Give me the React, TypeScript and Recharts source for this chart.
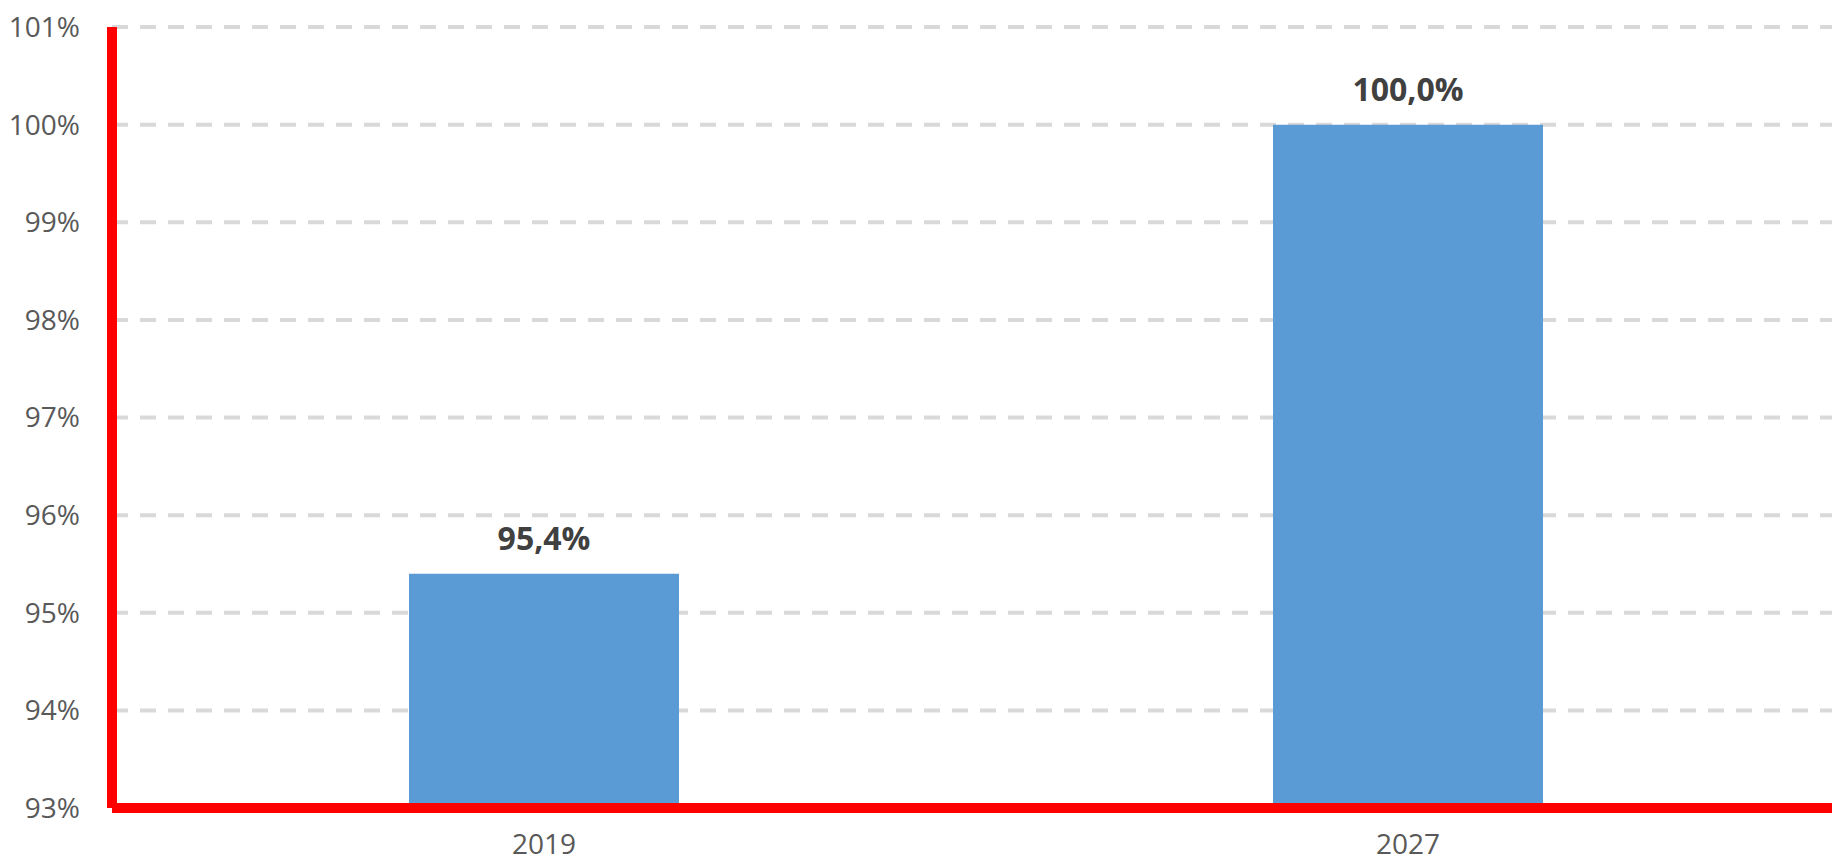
import { BarChart, Bar, XAxis, YAxis, CartesianGrid, LabelList } from "recharts";

const years = ["2019", "2027"];
const shares = [95.4, 100.0];
const yTicks = [93, 94, 95, 96, 97, 98, 99, 100, 101];

const data = years.map((year, i) => ({ year, share: shares[i] }));

function formatLabel(v: number) {
  return v.toFixed(1).replace(".", ",") + "%";
}

export default function App() {
  return (
    <div
      style={{
        position: "absolute",
        left: 0,
        top: 0,
        width: 1832,
        height: 864,
        overflow: "hidden",
        background: "#ffffff",
        fontFamily: "'Open Sans', sans-serif",
      }}
    >
      <BarChart
        width={1840}
        height={864}
        data={data}
        margin={{ top: 27, right: 0, bottom: 0, left: 0 }}
      >
        <CartesianGrid
          vertical={false}
          stroke="#d9d9d9"
          strokeWidth={4}
          strokeDasharray="16 12"
        />
        <XAxis
          dataKey="year"
          height={56}
          axisLine={{ stroke: "#ff0000", strokeWidth: 10 }}
          tickLine={false}
          tickSize={6}
          tickMargin={20}
          tick={{ fontSize: 28, fill: "#595959" }}
        />
        <YAxis
          type="number"
          width={112}
          domain={[93, 101]}
          ticks={yTicks}
          allowDataOverflow
          tickFormatter={(v: number) => `${v}%`}
          axisLine={{ stroke: "#ff0000", strokeWidth: 10 }}
          tickLine={false}
          tickSize={6}
          tickMargin={26}
          tick={{ fontSize: 28, fill: "#595959" }}
        />
        <Bar dataKey="share" fill="#5b9bd5" barSize={270} isAnimationActive={false}>
          <LabelList
            dataKey="share"
            position="top"
            offset={24}
            formatter={(v: number) => formatLabel(v)}
            style={{ fontSize: 32, fontWeight: 700, fill: "#404040" }}
          />
        </Bar>
      </BarChart>
    </div>
  );
}
